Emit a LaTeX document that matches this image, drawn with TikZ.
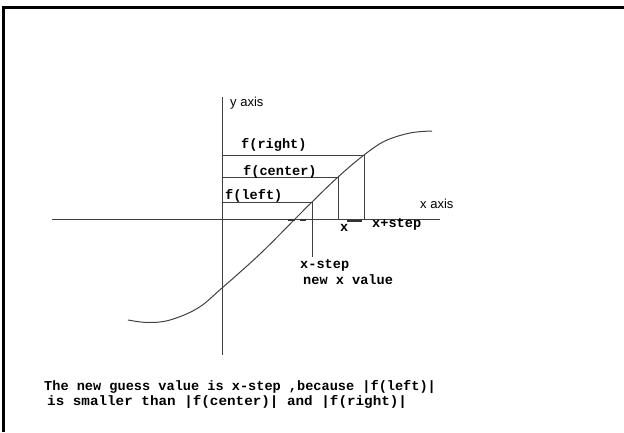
\documentclass[tikz,border=0pt]{standalone}
\usepackage{fontspec}
\setmainfont{Liberation Serif}
\newfontfamily\monob{Liberation Mono}
\newfontfamily\sansf{Liberation Sans}
\tikzset{
  lbl/.style={font=\monob\bfseries\fontsize{13.6}{14}\selectfont, inner sep=0pt, anchor=base west},
  axlbl/.style={font=\sansf\fontsize{13}{14}\selectfont, inner sep=0pt, anchor=base west},
  ln/.style={draw=black!75, line width=1pt},
  dashmark/.style={draw=black!80, line width=2pt},
}
\begin{document}
\begin{tikzpicture}[x=1pt,y=-1pt]
\useasboundingbox (0,0) rectangle (624,432);
% frame
\coordinate (fbl) at (3.5,432);
\coordinate (ftl) at (3.5,7.5);
\coordinate (ftr) at (624,7.5);
\draw[line width=3pt, line join=miter] (fbl) -- (ftl) -- (ftr);
% axes
\coordinate (ytop) at (222,97);
\coordinate (ybot) at (222,355);
\coordinate (xl) at (52,219);
\coordinate (xr) at (440,219);
\draw[ln] (ytop) -- (ybot);
\draw[ln] (xl) -- (xr);
% points on curve
\coordinate (R) at (364,155);
\coordinate (C) at (338,177);
\coordinate (L) at (312,202);
\coordinate (Ry) at (222,155);
\coordinate (Cy) at (222,177);
\coordinate (Ly) at (222,202);
\coordinate (Rx) at (364,219);
\coordinate (Cx) at (338,219);
\coordinate (Lx) at (312,257);
\draw[ln] (Ry) -- (R) -- (Rx);
\draw[ln] (Cy) -- (C) -- (Cx);
\draw[ln] (Ly) -- (L) -- (Lx);
% curve
\draw[ln] plot[smooth, tension=0.6] coordinates {(128,320) (148,322.5) (170,320) (198,308) (222,288) (260,254) (295,219) (L) (C) (R) (385,141) (410,133) (432,131)};
% small marks on x axis
\coordinate (d1a) at (288,219.5); \coordinate (d1b) at (295,219.5);
\coordinate (d2a) at (300,219.5); \coordinate (d2b) at (306,219.5);
\coordinate (d3a) at (347,220.5); \coordinate (d3b) at (362,220.5);
\draw[dashmark] (d1a) -- (d1b);
\draw[dashmark] (d2a) -- (d2b);
\draw[dashmark] (d3a) -- (d3b);
% labels
\node[axlbl] (ylab) at (230,106) {y axis};
\node[axlbl] (xlab) at (420,208) {x axis};
\node[lbl] (fr) at (241,148) {f(right)};
\node[lbl] (fc) at (243,175) {f(center)};
\node[lbl] (fl) at (225,199) {f(left)};
\node[lbl] (xx) at (340,231) {x};
\node[lbl] (xps) at (372,227) {x+step};
\node[lbl] (xms) at (300,268) {x-step};
\node[lbl] (nxv) at (303,284) {new x value};
\node[lbl] (t1) at (44,390) {The new guess value is x-step ,because |f(left)|};
\node[lbl] (t2) at (47,405) {\scalebox{1.05}[1]{is smaller than |f(center)| and |f(right)|}};
\end{tikzpicture}
\end{document}
